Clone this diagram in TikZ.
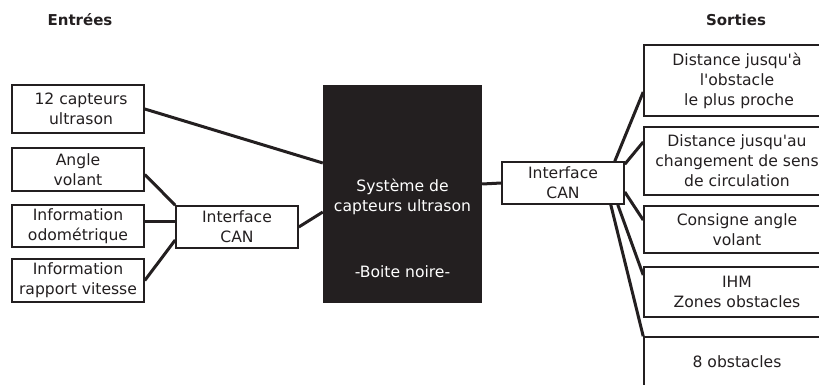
\documentclass[tikz,border=0pt]{standalone}
\usepackage{fontspec}
\setmainfont{DejaVu Sans}
\usetikzlibrary{calc}
\definecolor{ink}{HTML}{231F20}
\tikzset{
  box/.style={draw=ink, line width=1.6pt, fill=white, align=center, text=ink, inner sep=0pt,
    font=\fontsize{15.6pt}{20pt}\selectfont},
  link/.style={draw=ink, line width=3pt},
  head/.style={text=ink, font=\fontsize{15pt}{18pt}\selectfont\bfseries},
  blackbox/.style={fill=ink, draw=none},
  wtext/.style={text=white, align=center, font=\fontsize{15.6pt}{20pt}\selectfont}
}
\begin{document}
\begin{tikzpicture}[x=1pt,y=-1pt]
\useasboundingbox (0,0) rectangle (819,385);
\begin{scope}
\clip (0,0) rectangle (819,385);
% headers
\node[head] (hin) at (80,20) {Entrées};
\node[head] (hout) at (736,20) {Sorties};
% left boxes
\node[box, minimum width=132pt, minimum height=48pt] (cap) at (78,109) {\hspace*{6pt}12 capteurs\\\hspace*{6pt}ultrason};
\node[box, minimum width=132pt, minimum height=43pt] (ang) at (78,169.5) {Angle\\volant};
\node[box, minimum width=132pt, minimum height=42pt] (odo) at (78,226) {Information\\odométrique};
\node[box, minimum width=132pt, minimum height=43pt] (rap) at (78,280.5) {Information\\rapport vitesse};
\node[box, minimum width=122pt, minimum height=42pt] (ifl) at (237,227) {Interface\\CAN};
% black box
\node[blackbox, minimum width=159pt, minimum height=218pt] (blk) at (402.5,194) {};
\node[wtext] (blkt) at (402.5,197) {Système de\\capteurs ultrason};
\node[wtext] (blkn) at (402.5,272) {-Boite noire-};
% right interface
\node[box, minimum width=122pt, minimum height=42pt] (ifr) at (563,183) {Interface\\CAN};
% right boxes
\node[box, minimum width=186pt, minimum height=71pt] (r1) at (737,80.5) {Distance jusqu\textquotesingle à\\l\textquotesingle obstacle\\\hspace*{4pt}le plus proche};
\node[box, minimum width=186pt, minimum height=68pt] (r2) at (737,161) {Distance jusqu\textquotesingle au\\changement de sens\\de circulation};
\node[box, minimum width=186pt, minimum height=47pt] (r3) at (737,229.5) {Consigne angle\\volant};
\node[box, minimum width=186pt, minimum height=50pt, text depth=0pt] (r4) at (737,292) {IHM\\Zones obstacles};
\node[box, minimum width=186pt, minimum height=50pt, text depth=0pt] (r5) at (737,362) {8 obstacles};
% connectors left
\draw[link] (cap.east) -- ([yshift=31pt]blk.west);
\draw[link] ([yshift=-5pt]ang.east) -- (ifl.north west);
\draw[link] ([yshift=5pt]odo.east) -- ([yshift=6pt]ifl.west);
\draw[link] (rap.east) -- ([yshift=-13pt]ifl.west);
\draw[link] (ifl.east) -- ([yshift=-18pt]blk.west);
% connectors right
\draw[link] ([yshift=10pt]blk.east) -- (ifr.west);
\draw[link] ([xshift=-10pt]ifr.north east) -- ([yshift=-11.5pt]r1.west);
\draw[link] ([yshift=-3pt]ifr.north east) -- ([yshift=19pt]r2.west);
\draw[link] ([yshift=-9pt]ifr.east) -- ([yshift=9.5pt]r3.west);
\draw[link] ([xshift=-7pt]ifr.south east) -- ([yshift=17pt]r4.west);
\draw[link] ([xshift=-14pt]ifr.south east) -- (r5.north west);
\end{scope}
\end{tikzpicture}
\end{document}
